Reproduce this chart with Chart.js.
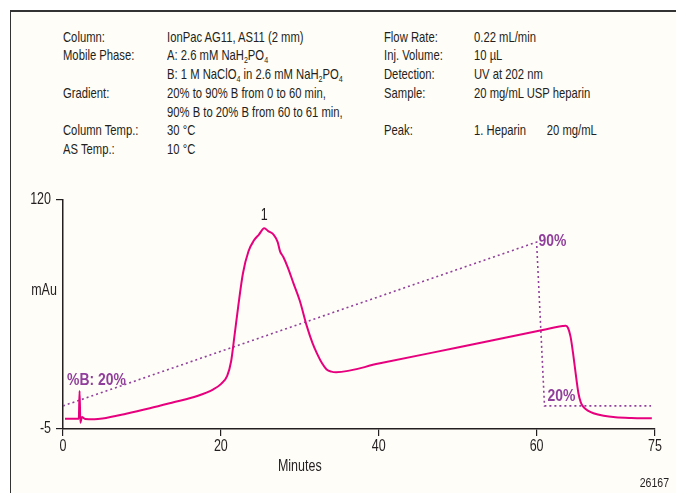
<!DOCTYPE html>
<html>
<head>
<meta charset="utf-8">
<script src="https://cdn.jsdelivr.net/npm/chart.js@4/dist/chart.umd.min.js"></script>
<style>
  html, body { margin: 0; padding: 0; background: #ffffff; }
  body { width: 676px; height: 493px; position: relative; overflow: hidden;
         font-family: "Liberation Sans", Arial, sans-serif; color: #231f20; }
  #frame { position: absolute; left: 10px; top: 10px; right: 0; bottom: 0; background: #fffdf7;
           border-left: 1.5px solid #333; border-top: 2px solid #333; }
  #c { position: absolute; left: 0; top: 0; }
  .col { position: absolute; font-size: 15px; line-height: 18.8px; white-space: nowrap;
         transform: scaleX(0.75); transform-origin: 0 0; }
  .col div { height: 18.8px; position: relative; }
  sub { font-size: 9.5px; vertical-align: -3px; line-height: 0; }
</style>
</head>
<body>
<div id="frame"></div>
<div class="col" style="left:63px; top:27.5px;">
  <div>Column:</div><div>Mobile Phase:</div><div>&nbsp;</div><div>Gradient:</div><div>&nbsp;</div><div>Column Temp.:</div><div>AS Temp.:</div>
</div>
<div class="col" style="left:167px; top:27.5px;">
  <div>IonPac AG11, AS11 (2 mm)</div>
  <div>A: 2.6 mM NaH<sub>2</sub>PO<sub>4</sub></div>
  <div>B: 1 M NaClO<sub>4</sub> in 2.6 mM NaH<sub>2</sub>PO<sub>4</sub></div>
  <div>20% to 90% B from 0 to 60 min,</div>
  <div>90% B to 20% B from 60 to 61 min,</div>
  <div>30 °C</div>
  <div>10 °C</div>
</div>
<div class="col" style="left:384px; top:27.5px;">
  <div>Flow Rate:</div><div>Inj. Volume:</div><div>Detection:</div><div>Sample:</div><div>&nbsp;</div><div>Peak:</div>
</div>
<div class="col" style="left:474px; top:27.5px;">
  <div>0.22 mL/min</div><div>10 µL</div><div>UV at 202 nm</div><div>20 mg/mL USP heparin</div><div>&nbsp;</div>
  <div>1. Heparin<span style="position:absolute; left:97px;">20 mg/mL</span></div>
</div>
<canvas id="c" width="676" height="493"></canvas>
<script>
// ---- data ----
const xTicks = [0, 20, 40, 60, 75];
const yTicks = [-5, 120];
const signalTime = [0.25, 1.5, 2.0, 2.1, 2.2, 2.4, 2.8, 4.0, 5.0, 8.0, 11.0, 14.0, 17.0, 19.0, 20.0, 20.8, 21.3, 21.7, 22.2, 22.8, 23.5, 24.2, 24.8, 25.5, 26.0, 26.7, 27.2, 27.5, 27.9, 28.5, 29.2, 30.0, 30.9, 31.6, 32.2, 32.8, 33.4, 34.0, 34.6, 40.0, 50.0, 60.0, 63.3, 63.7, 64.0, 64.3, 64.6, 64.9, 65.3, 65.6, 65.9, 66.5, 67.2, 68.5, 70.0, 72.0, 74.6];
const signalMAu  = [0.6, 0.6, 0.6, 15.7, -1.6, 1.5, 0.5, 0.3, 0.7, 3.3, 6.3, 9.6, 13.0, 16.5, 19.5, 24, 32, 45, 62, 80, 92, 98, 101, 104.6, 103, 101, 97, 92, 89, 83, 74.5, 65, 51, 42, 36, 31, 27.5, 26.3, 26, 30.7, 39.5, 48.3, 51.2, 51.4, 50, 45.4, 37, 27, 14.5, 9.5, 7.2, 5, 3.6, 2.2, 1.4, 1.0, 0.8];
const gradientTime = [0, 60, 61, 74.5];
const gradientPctB = [20, 90, 20, 20];
const peakLabels = ["1"];
const peakTimes = [25.5];
const peakHeights = [104.6];

const FONT = '"Liberation Sans", Arial, sans-serif';
const TEXT = '#231f20';
const MAGENTA = '#e6007e';
const PURPLE = '#913f9c';
const CONDENSE = 0.78;

function condText(ctx, text, x, y, align, font, color, sx) {
  sx = sx || CONDENSE;
  ctx.save();
  ctx.font = font;
  ctx.fillStyle = color;
  ctx.textBaseline = 'middle';
  ctx.textAlign = align;
  ctx.translate(x, y);
  ctx.scale(sx, 1);
  ctx.fillText(text, 0, 0);
  ctx.restore();
}

const annot = {
  id: 'annot',
  afterDraw(chart) {
    const ctx = chart.ctx, x = chart.scales.x, y = chart.scales.y, yb = chart.scales.yB;
    const tf = '16px ' + FONT;
    x.ticks.forEach(t => condText(ctx, String(t.value), x.getPixelForValue(t.value), chart.chartArea.bottom + 18, 'center', tf, TEXT));
    y.ticks.forEach(t => condText(ctx, String(t.value), chart.chartArea.left - 12, y.getPixelForValue(t.value), 'right', tf, TEXT));
    peakLabels.forEach((l, i) => condText(ctx, l, x.getPixelForValue(peakTimes[i]), y.getPixelForValue(peakHeights[i]) - 13, 'center', tf, TEXT));
    condText(ctx, 'Minutes', x.getPixelForValue(30), 467, 'center', tf, TEXT);
    condText(ctx, 'mAu', 44, 291, 'center', tf, TEXT);
    condText(ctx, '26167', 669, 483, 'right', '13.5px ' + FONT, TEXT);
    const bf = 'bold 16px ' + FONT;
    condText(ctx, '%B: ' + gradientPctB[0] + '%', x.getPixelForValue(0) + 4, yb.getPixelForValue(gradientPctB[0]) - 25, 'left', bf, PURPLE, 0.87);
    condText(ctx, gradientPctB[1] + '%', x.getPixelForValue(gradientTime[1]) + 2, yb.getPixelForValue(gradientPctB[1]) - 1, 'left', bf, PURPLE, 0.87);
    condText(ctx, gradientPctB[2] + '%', x.getPixelForValue(gradientTime[2]) + 3, yb.getPixelForValue(gradientPctB[2]) - 9, 'left', bf, PURPLE, 0.87);
  }
};

new Chart(document.getElementById('c'), {
  type: 'line',
  data: {
    datasets: [
      {
        label: 'Signal',
        data: signalTime.map((t, i) => ({ x: t, y: signalMAu[i] })),
        borderColor: MAGENTA, borderWidth: 2, pointRadius: 0,
        cubicInterpolationMode: 'monotone', yAxisID: 'y'
      },
      {
        label: '%B',
        data: gradientTime.map((t, i) => ({ x: t, y: gradientPctB[i] })),
        borderColor: PURPLE, borderWidth: 1.6, borderDash: [2, 3], pointRadius: 0,
        tension: 0, yAxisID: 'yB'
      }
    ]
  },
  options: {
    responsive: false, animation: false,
    layout: { padding: { left: 0, top: 200, right: 21, bottom: 0 } },
    plugins: { legend: { display: false }, tooltip: { enabled: false } },
    scales: {
      x: {
        type: 'linear', min: 0, max: 75,
        afterBuildTicks: s => { s.ticks = xTicks.map(v => ({ value: v })); },
        afterFit: s => { s.height = 64; },
        grid: { drawOnChartArea: false, drawTicks: true, tickLength: 7, color: '#231f20', lineWidth: 1.2 },
        border: { display: true, color: '#231f20', width: 1.5 },
        ticks: { display: false }
      },
      y: {
        min: -5, max: 120,
        afterBuildTicks: s => { s.ticks = yTicks.map(v => ({ value: v })); },
        afterFit: s => { s.width = 63; },
        grid: { drawOnChartArea: false, drawTicks: true, tickLength: 7, color: '#231f20', lineWidth: 1.2 },
        border: { display: true, color: '#231f20', width: 1.5 },
        ticks: { display: false }
      },
      yB: { display: false, min: 10.13, max: 108 }
    }
  },
  plugins: [annot]
});
</script>
</body>
</html>
